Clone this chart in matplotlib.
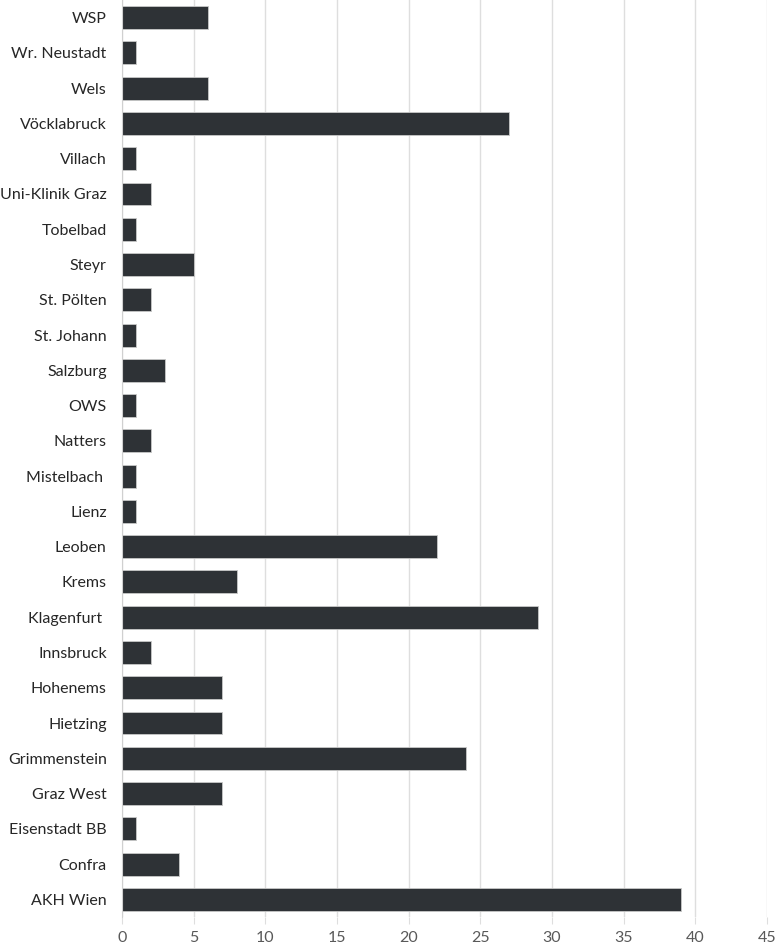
import matplotlib.pyplot as plt
import numpy as np

plt.rcParams['font.family'] = ['Lato', 'DejaVu Sans']

# bottom to top
standorte = ['AKH Wien', 'Confra', 'Eisenstadt BB', 'Graz West', 'Grimmenstein',
             'Hietzing', 'Hohenems', 'Innsbruck', 'Klagenfurt ', 'Krems', 'Leoben',
             'Lienz', 'Mistelbach ', 'Natters', 'OWS', 'Salzburg', 'St. Johann',
             'St. Pölten', 'Steyr', 'Tobelbad', 'Uni-Klinik Graz', 'Villach',
             'Vöcklabruck', 'Wels', 'Wr. Neustadt', 'WSP']
anzahl = [39, 4, 1, 7, 24, 7, 7, 2, 29, 8, 22, 1, 1, 2, 1, 3, 1, 2, 5, 1, 2, 1,
          27, 6, 1, 6]
x_ticks = np.arange(0, 50, 5)

fig = plt.figure(figsize=(7.77, 9.49), dpi=100)
ax = fig.add_axes([122 / 777, 32 / 949, 645 / 777, 917 / 949])

y = np.arange(len(standorte))
ax.barh(y, anzahl, height=0.65, color='#2e3236', edgecolor='#c8c8c8',
        linewidth=0.6, zorder=3)

ax.set_xlim(0, 45)
ax.set_ylim(-0.5, len(standorte) - 0.5)
ax.set_xticks(x_ticks)
ax.set_yticks(y)
ax.set_yticklabels(standorte)
ax.xaxis.grid(True, color='#dedede', linewidth=1, zorder=0)

for s in ['top', 'right', 'bottom']:
    ax.spines[s].set_visible(False)
ax.spines['left'].set_color('#d0d0d0')
ax.spines['left'].set_zorder(4)

ax.tick_params(axis='x', length=5, color='#dedede', labelcolor='#595959',
               labelsize=11.5, pad=5)
ax.tick_params(axis='y', length=0, labelcolor='#262626', labelsize=11.5, pad=11)

plt.savefig('out.png', dpi=100)
